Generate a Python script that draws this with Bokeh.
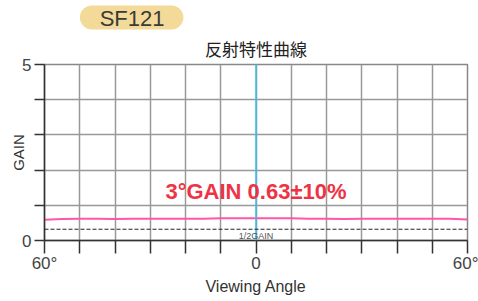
from bokeh.plotting import figure
from bokeh.models import Label, Span, FixedTicker, Range1d
from bokeh.layouts import column
from bokeh.core.properties import value
from bokeh.embed import file_html
from bokeh.resources import INLINE

angles = [-60, -55, -50, -45, -40, -35, -30, -25, -20, -15, -10, -5, 0,
          5, 10, 15, 20, 25, 30, 35, 40, 45, 50, 55, 60]
gain = [0.59, 0.61, 0.62, 0.62, 0.61, 0.62, 0.62, 0.62, 0.62, 0.62, 0.63, 0.63, 0.63,
        0.63, 0.63, 0.62, 0.62, 0.61, 0.62, 0.62, 0.62, 0.62, 0.62, 0.62, 0.60]
half_gain = 0.32
x_ticks = [-60, -50, -40, -30, -20, -10, 0, 10, 20, 30, 40, 50, 60]
x_tick_labels = {-60: "60°", 0: "0", 60: "60°"}
y_ticks = [0, 1, 2, 3, 4, 5]
y_tick_labels = {0: "0", 5: "5"}
model_name = "SF121"
chart_title = "反射特性曲線"

FONT = "Liberation Sans"

# --- header strip (badge), pixel-like coordinates ---
head = figure(width=478, height=30, output_backend="svg", toolbar_location=None,
              x_range=Range1d(0, 478), y_range=Range1d(30, 0),
              x_axis_type=None, y_axis_type=None, min_border=0)
head.grid.visible = False
head.outline_line_color = None
head.background_fill_color = "white"
head.border_fill_color = "white"
head.quad(left=[40], right=[157], top=[5], bottom=[29], fill_color="#f4da98",
          line_color=None, border_radius=12)
head.text(x=[99], y=[17.5], text=[model_name], text_align="center", text_baseline="middle",
          text_font=value(FONT), text_font_size="22px", text_color="#3a3a3a")

# --- main chart ---
p = figure(frame_width=423, frame_height=176, output_backend="svg", toolbar_location=None,
           x_range=Range1d(-60, 60), y_range=Range1d(0, 5),
           min_border_left=44, min_border_right=11, min_border_top=27, min_border_bottom=64)
p.background_fill_color = "white"
p.border_fill_color = "white"
p.outline_line_color = "#888888"
p.outline_line_width = 1.5

p.title.text = chart_title
p.title.align = "center"
p.title.text_font = "Noto Sans CJK JP"
p.title.text_font_size = "17px"
p.title.text_font_style = "normal"
p.title.text_color = "#222222"
p.title.text_line_height = 1.0
p.title.standoff = 7

p.xaxis.ticker = FixedTicker(ticks=x_ticks)
p.yaxis.ticker = FixedTicker(ticks=y_ticks)
p.xaxis.major_label_overrides = {t: x_tick_labels.get(t, "") for t in x_ticks}
p.yaxis.major_label_overrides = {t: y_tick_labels.get(t, "") for t in y_ticks}
p.xaxis.minor_tick_line_color = None
p.yaxis.minor_tick_line_color = None
for ax in (p.xaxis, p.yaxis):
    ax.axis_line_color = "#333333"
    ax.axis_line_width = 1.5
    ax.major_tick_line_color = "#333333"
    ax.major_tick_line_width = 1.5
    ax.major_tick_in = 0
    ax.major_label_text_font = FONT
    ax.major_label_text_font_size = "17px"
    ax.major_label_text_color = "#444444"
    ax.axis_label_text_font = FONT
    ax.axis_label_text_font_style = "normal"
    ax.axis_label_text_font_size = "16px"
    ax.axis_label_text_color = "#333333"
p.xaxis.major_tick_out = 13
p.yaxis.major_tick_out = 10
p.xaxis.major_label_standoff = 0
p.yaxis.major_label_standoff = 3
p.xaxis.axis_label = "Viewing Angle"
p.xaxis.axis_label_standoff = 2
p.yaxis.axis_label = "GAIN"
p.yaxis.axis_label_text_font_size = "15px"
p.yaxis.axis_label_standoff = -8

p.xgrid.ticker = FixedTicker(ticks=x_ticks)
p.ygrid.ticker = FixedTicker(ticks=y_ticks)
p.grid.grid_line_color = "#999999"
p.grid.grid_line_width = 1.5

p.add_layout(Span(location=0, dimension="height", line_color="#33c0f0", line_width=1.5))
p.add_layout(Span(location=half_gain, dimension="width", line_color="#222222",
                  line_width=1, line_dash="4 2"))
p.line(angles, gain, line_color="#ff55aa", line_width=2)

p.add_layout(Label(x=0, y=half_gain - 0.05, text="1/2GAIN", text_align="center",
                   text_baseline="top", text_font=FONT, text_font_size="9px",
                   text_color="#555555"))
p.add_layout(Label(x=0, y=1.39, text="3°GAIN 0.63±10%", text_align="center",
                   text_baseline="middle", text_font=FONT, text_font_size="22px",
                   text_font_style="bold", text_color="#ee3344"))

layout = column(head, p, spacing=0)
open("out.html", "w").write(file_html(layout, INLINE))
